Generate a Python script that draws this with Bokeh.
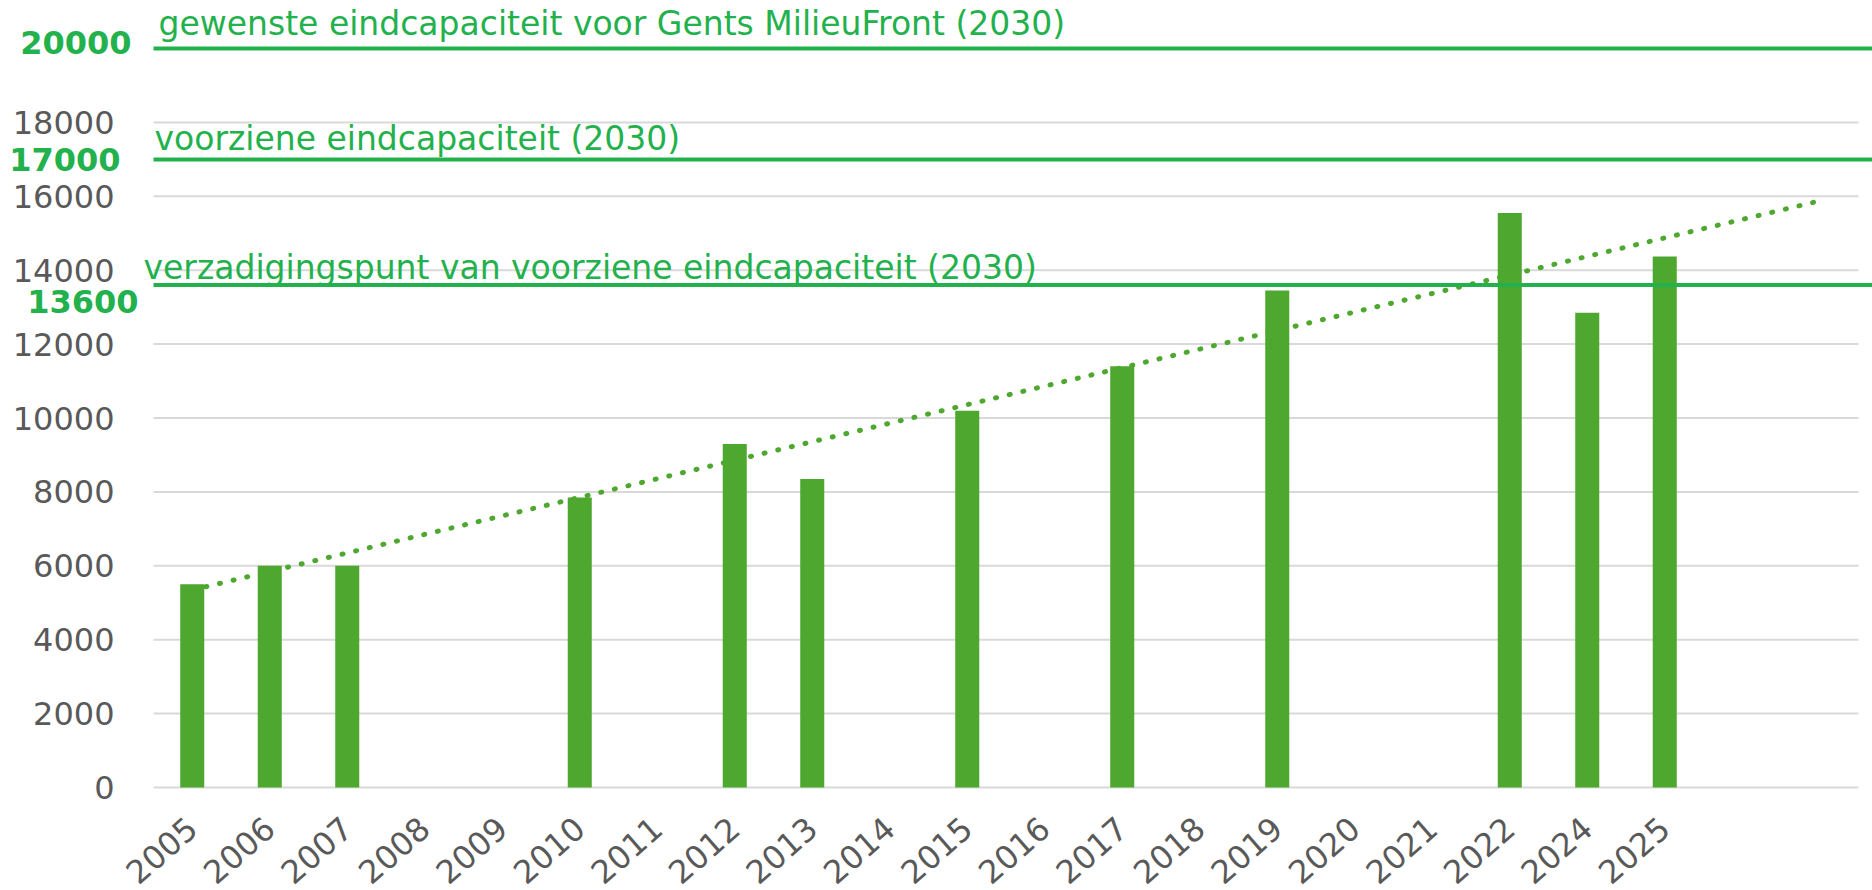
import numpy as np
from bokeh.plotting import figure
from bokeh.models import Range1d, FixedTicker, ColumnDataSource
from bokeh.core.properties import value
from bokeh.embed import file_html
from bokeh.resources import INLINE

# ---- data ----
categories = ["2005", "2006", "2007", "2008", "2009", "2010", "2011", "2012", "2013", "2014",
              "2015", "2016", "2017", "2018", "2019", "2020", "2021", "2022", "2024", "2025"]
values = [5500, 6000, 6000, None, None, 7850, None, 9300, 8350, None,
          10200, None, 11400, None, 13450, None, None, 15550, 12850, 14370]
forecast_periods = 2
threshold_values = [20000, 17000, 13600]
threshold_labels = ["gewenste eindcapaciteit voor Gents MilieuFront (2030)",
                    "voorziene eindcapaciteit (2030)",
                    "verzadigingspunt van voorziene eindcapaciteit (2030)"]
y_ticks = [0, 2000, 4000, 6000, 8000, 10000, 12000, 14000, 16000, 18000]
y_tick_labels = [str(t) for t in y_ticks]

# ---- styles ----
BAR = "#4EA72E"
MARK = "#22B14C"
GRID = "#D9D9D9"
TICKC = "#595959"

idx = [i for i, v in enumerate(values) if v is not None]
vals = [values[i] for i in idx]
src = ColumnDataSource(dict(x=idx, top=vals))

# linear trendline (least squares over category index), extended forward
b, a = np.polyfit(np.array(idx, float), np.array(vals, float), 1)
tx = np.array([0, len(categories) - 1 + forecast_periods], float)
ty = a + b * tx

W = 1872
FRAME_H = 805
PLOT_LEFT = 153          # px where the category area starts
slot_px = 77.5           # px per category slot
n_slots = len(categories) + forecast_periods

def px2x(px):
    return -0.5 + (px - PLOT_LEFT) / slot_px

x_start, x_end = px2x(0), px2x(W)
grid_end = -0.5 + n_slots

p = figure(frame_width=W, frame_height=FRAME_H,
           min_border_left=0, min_border_right=0, min_border_top=0, min_border_bottom=85,
           x_range=Range1d(x_start, x_end), y_range=Range1d(-487, 21300),
           y_axis_location=None,
           output_backend="svg", toolbar_location=None, tools="")
p.outline_line_color = None
p.background_fill_color = "white"
p.border_fill_color = "white"
p.xgrid.visible = False
p.ygrid.visible = False

# horizontal gridlines over the category area
p.segment(x0=[-0.5] * len(y_ticks), x1=[grid_end] * len(y_ticks), y0=y_ticks, y1=y_ticks,
          line_color=GRID, line_width=2)

# y tick labels
p.text(x=[px2x(114)] * len(y_ticks), y=y_ticks, text=y_tick_labels,
       text_align="right", text_baseline="middle", text_color=TICKC,
       text_font=value("DejaVu Sans"), text_font_size="32px")

# x axis
p.xaxis.ticker = FixedTicker(ticks=list(range(len(categories))))
p.xaxis.major_label_overrides = {i: c for i, c in enumerate(categories)}
p.xaxis.axis_line_color = None
p.xaxis.major_tick_line_color = None
p.xaxis.minor_tick_line_color = None
p.xaxis.major_tick_out = 0
p.xaxis.major_tick_in = 0
p.xaxis.major_label_orientation = 0.72
p.xaxis.major_label_standoff = 18
p.xaxis.major_label_text_font = "DejaVu Sans"
p.xaxis.major_label_text_font_size = "32px"
p.xaxis.major_label_text_color = TICKC

# trendline
p.line(tx, ty, line_color=BAR, line_width=5, line_dash="1 13", line_cap="round")

# bars
p.vbar(x="x", top="top", bottom=0, width=0.31, source=src, fill_color=BAR, line_color=None)

# threshold lines
p.segment(x0=[-0.5] * 3, x1=[x_end] * 3, y0=threshold_values, y1=threshold_values,
          line_color=MARK, line_width=4)

# threshold texts
p.text(x=[px2x(158), px2x(154), px2x(143)], y=threshold_values, text=threshold_labels,
       y_offset=[-25, -21, -18], text_align="left", text_baseline="alphabetic",
       text_color=MARK, text_font=value("DejaVu Sans"), text_font_size="33px")

# bold values at the left
p.text(x=[px2x(131), px2x(120), px2x(138)], y=threshold_values,
       text=[str(v) for v in threshold_values], y_offset=[-6, 0, 16],
       text_align="right", text_baseline="middle", text_color=MARK,
       text_font=value("DejaVu Sans"), text_font_style="bold", text_font_size="32px")

open("out.html", "w").write(file_html(p, INLINE))
